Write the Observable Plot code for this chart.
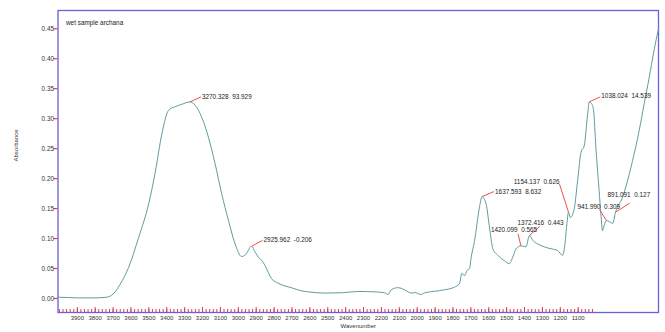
<!DOCTYPE html>
<html>
<head>
<meta charset="utf-8">
<script src="https://cdn.jsdelivr.net/npm/d3@7"></script>
<script src="https://cdn.jsdelivr.net/npm/@observablehq/plot@0.6"></script>
<style>
  body { margin: 0; background: #fff; }
  #chart svg { display: block; }
</style>
</head>
<body>
<div id="chart"></div>
<script>
// FTIR spectrum of the wet sample (absorbance vs wavenumber, cm-1)
const wavenumber = [
  4008, 4000, 3900, 3800, 3740, 3710, 3689, 3660, 3613, 3557, 3501, 3466, 3427, 3390, 3353, 3316,
  3270.328, 3240, 3204, 3167, 3130, 3093, 3055, 3018, 2981, 2960, 2925.962, 2905, 2888, 2870, 2851,
  2814, 2780, 2740, 2703, 2650, 2609, 2560, 2516, 2423, 2330, 2237, 2182, 2163, 2145, 2107, 2070,
  2033, 2010, 1996, 1977, 1958, 1903, 1847, 1791, 1764, 1750, 1736, 1721, 1708, 1698, 1680, 1652,
  1637.593, 1615, 1596, 1577, 1549, 1512, 1485, 1466, 1447, 1420.099, 1392, 1372.416, 1354, 1326,
  1289, 1252, 1215, 1187, 1174, 1163, 1154.137, 1144, 1122, 1103, 1084, 1066, 1047, 1038.024, 1025,
  1014, 1001, 983, 973, 964, 958, 941.990, 925, 918, 908, 891.091, 871, 862, 834, 796, 759, 731, 704,
  676, 651
];
const absorbance = [
  0.002, 0.002, 0.001, 0.001, 0.002, 0.005, 0.011, 0.024, 0.052, 0.102, 0.158, 0.208, 0.275, 0.314, 0.320, 0.324,
  0.328, 0.322, 0.302, 0.269, 0.225, 0.175, 0.130, 0.091, 0.070, 0.073, 0.087, 0.077, 0.069, 0.064, 0.055,
  0.033, 0.026, 0.021, 0.018, 0.013, 0.011, 0.0095, 0.009, 0.0095, 0.0117, 0.011, 0.0095, 0.0067, 0.0145, 0.018, 0.0145,
  0.009, 0.010, 0.008, 0.0067, 0.0095, 0.012, 0.0145, 0.019, 0.0245, 0.042, 0.038, 0.047, 0.0495, 0.069, 0.095, 0.152,
  0.170, 0.158, 0.119, 0.083, 0.072, 0.063, 0.058, 0.069, 0.083, 0.088, 0.086, 0.105, 0.097, 0.091,
  0.086, 0.083, 0.080, 0.072, 0.091, 0.125, 0.144, 0.135, 0.150, 0.197, 0.244, 0.255, 0.308, 0.328, 0.325,
  0.314, 0.252, 0.180, 0.141, 0.113, 0.119, 0.130, 0.128, 0.127, 0.125, 0.144, 0.158, 0.162, 0.186, 0.230, 0.280, 0.325, 0.367,
  0.414, 0.450
];

// Peak-pick readouts: wavenumber and the instrument's second value
const peakWavenumbers = [3270.328, 2925.962, 1637.593, 1420.099, 1372.416, 1154.137, 1038.024, 941.990, 891.091];
const peakReadouts = ["93.929", "-0.206", "8.632", "0.565", "0.443", "0.626", "14.539", "0.309", "0.127"];

const yTicks = [0, 0.05, 0.10, 0.15, 0.20, 0.25, 0.30, 0.35, 0.40, 0.45];
const xLabelTicks = d3.range(3900, 1099, -100);
const xMinorTicks = d3.range(4000, 1019, -20);

const sampleTitle = "wet sample archana";
const xTitle = "Wavenumber";
const yTitle = "Absorbance";

// Layout
const width = 665, height = 332;
const margin = {top: 10, right: 7, bottom: 20, left: 57.5};
const xDomain = [4008, 651];
const yDomain = [-0.0234, 0.4805];

// Label placement around each picked peak (pixel offsets): text start and leader end
const labelLayout = {
  3270.328: {tx: 12, ty: -5, lx: 11, ly: -5, anchor: "start"},
  2925.962: {tx: 12, ty: -6, lx: 11, ly: -6, anchor: "start"},
  1637.593: {tx: 13, ty: -5, lx: 12, ly: -5, anchor: "start"},
  1420.099: {tx: -30, ty: -16, lx: -3, ly: -12, anchor: "start"},
  1372.416: {tx: -12, ty: -13, lx: 10, ly: -9, anchor: "start"},
  1154.137: {tx: -9, ty: -30, lx: -9, ly: -28, anchor: "end"},
  1038.024: {tx: 12, ty: -6, lx: 11, ly: -5, anchor: "start"},
  941.99:   {tx: -29, ty: -14, lx: -7, ly: -11, anchor: "start"},
  891.091:  {tx: -8, ty: -17, lx: 14, ly: -9, anchor: "start"}
};

const spectrum = wavenumber.map((w, i) => ({w, a: absorbance[i]}));
const absAt = w => spectrum.find(d => d.w === w).a;

// Pixel scales mirroring Plot's, used to place the leader-line ends
const px = d3.scaleLinear(xDomain, [margin.left, width - margin.right]);
const py = d3.scaleLinear(yDomain, [height - margin.bottom, margin.top]);

const peaks = peakWavenumbers.map((w, i) => {
  const a = absAt(w);
  const L = labelLayout[w];
  return {
    w, a,
    text: `${w.toFixed(3)}  ${peakReadouts[i]}`,
    w2: px.invert(px(w) + L.lx),
    a2: py.invert(py(a) + L.ly),
    L
  };
});

const font = "Liberation Sans, Arial, sans-serif";
const frameColor = "#6b5fd6";
const tickColor = "#de3b5c";
const lineColor = "#5f9c9c";
const leaderColor = "#f0504a";

const plot = Plot.plot({
  width, height,
  marginTop: margin.top, marginRight: margin.right, marginBottom: margin.bottom, marginLeft: margin.left,
  style: {fontFamily: font, background: "#fff", color: "#222"},
  x: {domain: xDomain, label: null},
  y: {domain: yDomain, label: null},
  marks: [
    // y axis ticks and labels
    Plot.axisY(yTicks, {
      tickSize: 4, tickPadding: 0, stroke: tickColor, fill: "#333",
      tickFormat: d3.format(".2f"), fontSize: 6.4, label: null, strokeWidth: 1.2
    }),
    // x axis: inward minor and major ticks, then labels
    Plot.axisX(xMinorTicks, {tickSize: -3, stroke: tickColor, tickFormat: () => "", label: null}),
    Plot.axisX(xLabelTicks, {tickSize: -5, stroke: tickColor, tickFormat: () => "", label: null}),
    Plot.axisX(xLabelTicks, {tickSize: 0, tickPadding: 3, fill: "#333", fontSize: 6, tickFormat: d => String(d), label: null}),
    Plot.frame({stroke: frameColor, strokeWidth: 1.3}),
    // spectrum
    Plot.line(spectrum, {x: "w", y: "a", stroke: lineColor, strokeWidth: 1, curve: "monotone-x"}),
    // peak leaders
    Plot.link(peaks, {x1: "w", y1: "a", x2: "w2", y2: "a2", stroke: leaderColor, strokeWidth: 1}),
    // peak labels
    ...peaks.map(p => Plot.text([p], {
      x: "w", y: "a", text: "text", dx: p.L.tx, dy: p.L.ty,
      textAnchor: p.L.anchor, fontSize: 6.4, fill: "#222", lineAnchor: "middle"
    })),
    // titles
    Plot.text([sampleTitle], {frameAnchor: "top-left", dx: 8, dy: 10, textAnchor: "start", fontSize: 6.4, fill: "#222"}),
    Plot.text([xTitle], {frameAnchor: "bottom", dy: 15, fontSize: 6, fill: "#333"}),
    Plot.text([yTitle], {frameAnchor: "left", dx: -42, rotate: -90, fontSize: 6, fill: "#333"})
  ]
});

document.getElementById("chart").append(plot);
</script>
</body>
</html>
